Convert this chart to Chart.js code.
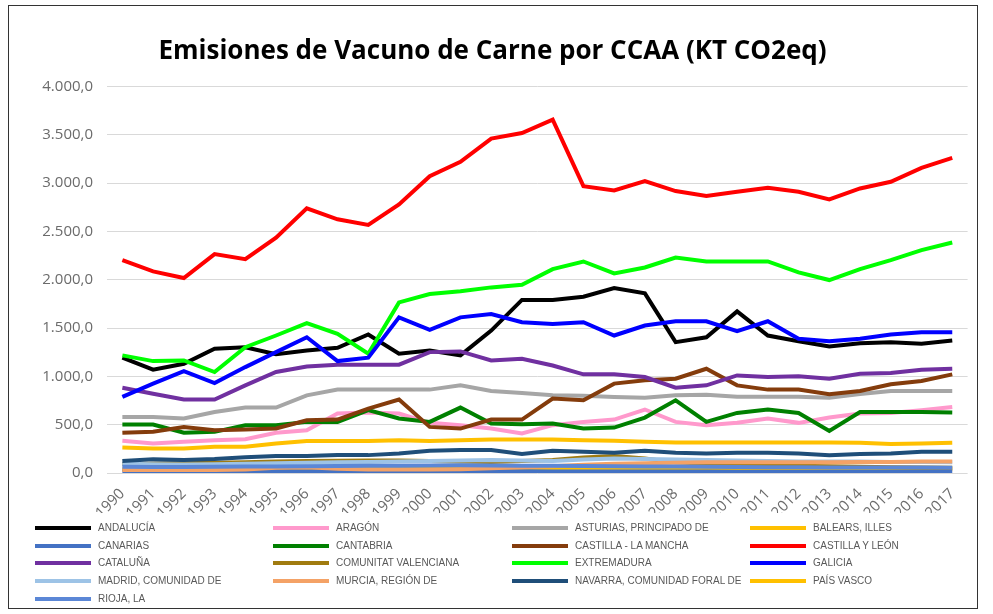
<!DOCTYPE html>
<html>
<head>
<meta charset="utf-8">
<script src="https://cdn.jsdelivr.net/npm/chart.js@4"></script>
<style>
  body { margin: 0; background: #fff; }
  #box { position: absolute; left: 8px; top: 5px; width: 970px; height: 604px; box-sizing: border-box; border: 1px solid #333; }
  #legend { position: absolute; left: 0; top: 0; font-family: "Liberation Sans", Arial, sans-serif; font-size: 10px; color: #595959; }
  .item { position: absolute; height: 12px; line-height: 12px; white-space: nowrap; }
  .item span.sw { position: absolute; left: 0; top: 4px; width: 56px; height: 4px; }
  .item span.tx { position: absolute; left: 63px; top: 0; }
</style>
</head>
<body>
<div id="box"><canvas id="emisionesChart" width="968" height="602"></canvas></div>
<div id="legend"></div>
<script>
const years = ["1990","1991","1992","1993","1994","1995","1996","1997","1998","1999","2000","2001","2002","2003","2004","2005","2006","2007","2008","2009","2010","2011","2012","2013","2014","2015","2016","2017"];

const andalucia = [1193,1069,1131,1286,1302,1230,1268,1296,1433,1234,1268,1217,1474,1791,1791,1825,1915,1859,1354,1405,1673,1423,1364,1309,1343,1354,1337,1371];
const aragon = [333,306,323,340,350,416,443,615,625,615,519,495,460,409,495,529,553,657,529,495,519,564,519,574,615,622,650,684];
const asturias = [580,580,564,632,677,677,804,863,863,863,863,907,849,828,804,800,787,780,804,811,790,790,790,780,818,849,849,849];
const baleares = [40,40,42,42,45,45,48,48,50,50,52,52,50,50,48,48,45,45,45,45,45,42,42,40,40,40,42,42];
const canarias = [15,15,15,16,16,17,17,18,18,18,18,18,17,17,16,16,15,15,15,15,14,14,14,14,14,14,15,15];
const cantabria = [502,502,416,426,495,495,529,529,650,564,529,677,512,505,512,460,470,574,753,529,622,657,622,436,632,632,632,625];
const castillaLaMancha = [416,426,477,443,450,460,546,553,667,760,477,460,553,553,770,753,925,959,976,1079,907,863,863,814,849,918,952,1021];
const castillaLeon = [2203,2086,2018,2265,2213,2436,2739,2626,2567,2780,3072,3220,3461,3519,3657,2969,2925,3021,2918,2866,2911,2952,2911,2832,2945,3014,3158,3261];
const cataluna = [883,821,760,760,907,1045,1103,1121,1121,1121,1251,1258,1165,1182,1113,1021,1021,993,883,907,1010,993,1000,976,1027,1034,1069,1079];
const valenciana = [90,95,100,105,110,120,125,128,130,130,125,120,115,125,135,160,175,150,110,95,85,80,75,70,65,60,58,55];
const extremadura = [1217,1158,1165,1045,1302,1423,1550,1440,1234,1766,1852,1880,1921,1949,2110,2189,2065,2127,2230,2189,2189,2189,2076,1997,2110,2203,2306,2385];
const galicia = [787,925,1055,931,1096,1251,1405,1158,1193,1611,1481,1611,1646,1560,1543,1560,1423,1526,1570,1570,1467,1570,1389,1364,1389,1433,1457,1457];
const madrid = [95,90,88,90,95,100,105,110,115,120,125,130,135,130,125,140,150,145,140,135,130,125,120,120,118,115,115,112];
const murcia = [30,30,30,32,35,55,60,45,35,35,35,40,50,60,70,85,95,100,105,110,110,112,112,112,115,115,118,120];
const navarra = [124,141,134,144,162,175,175,185,185,203,230,237,237,196,230,220,209,230,209,203,209,209,203,185,196,203,220,220];
const paisVasco = [265,254,254,271,271,306,330,330,330,340,330,340,347,347,347,340,333,323,316,316,316,316,316,316,313,299,306,313];
const rioja = [65,62,62,64,66,68,70,72,74,76,78,80,78,76,74,72,70,68,66,64,62,60,60,58,58,56,56,55];

const names = ["ANDALUCÍA","ARAGÓN","ASTURIAS, PRINCIPADO DE","BALEARS, ILLES","CANARIAS","CANTABRIA","CASTILLA - LA MANCHA","CASTILLA Y LEÓN","CATALUÑA","COMUNITAT VALENCIANA","EXTREMADURA","GALICIA","MADRID, COMUNIDAD DE","MURCIA, REGIÓN DE","NAVARRA, COMUNIDAD FORAL DE","PAÍS VASCO","RIOJA, LA"];
const series = [andalucia, aragon, asturias, baleares, canarias, cantabria, castillaLaMancha, castillaLeon, cataluna, valenciana, extremadura, galicia, madrid, murcia, navarra, paisVasco, rioja];
const colors = ["#000000","#ff99cc","#a6a6a6","#ffc000","#4472c4","#008000","#843c0c","#ff0000","#7030a0","#a07b10","#00ff00","#0000ff","#9dc3e6","#f4a266","#1f4e79","#ffc000","#5b87d6"];

// formato español: 4.000,0
function fmt(v) {
    const p = Number(v).toFixed(1).split(".");
    return p[0].replace(/\B(?=(\d{3})+(?!\d))/g, ".") + "," + p[1];
}

const ctx = document.getElementById("emisionesChart").getContext("2d");
const chart = new Chart(ctx, {
    type: "line",
    data: {
        labels: years,
        datasets: series.map((d, i) => ({
            label: names[i],
            data: d,
            borderColor: colors[i],
            backgroundColor: colors[i],
            borderWidth: 4,
            pointRadius: 0,
            tension: 0,
            fill: false,
            order: series.length - i, // later series on top, like Excel
        })),
    },
    options: {
        responsive: false,
        animation: false,
        layout: { padding: { left: 0, right: 1, top: 0, bottom: 95 } },
        plugins: {
            legend: { display: false },
            tooltip: { enabled: false },
            title: {
                display: true,
                text: "Emisiones de Vacuno de Carne por CCAA (KT CO2eq)",
                color: "#000",
                font: { family: "'Open Sans', sans-serif", size: 26, weight: "bold", lineHeight: 1.25 },
                padding: { top: 29, bottom: 19 },
            },
        },
        scales: {
            x: {
                offset: true,
                grid: { display: false, drawTicks: false },
                border: { display: false },
                ticks: {
                    color: "#6b6b6b",
                    font: { family: "'Open Sans', sans-serif", size: 15 },
                    maxRotation: 45,
                    minRotation: 45,
                    autoSkip: false,
                    padding: 12,
                },
                afterFit: (s) => { s.height = 40; },
            },
            y: {
                min: 0,
                max: 4000,
                grid: { color: "#d9d9d9", drawTicks: false },
                border: { display: false },
                ticks: {
                    stepSize: 500,
                    color: "#6b6b6b",
                    font: { family: "'Open Sans', sans-serif", size: 15 },
                    padding: 14,
                    callback: (v) => fmt(v),
                },
                afterFit: (s) => { s.width = 98; },
            },
        },
    },
});

// leyenda en 4 columnas
const legend = document.getElementById("legend");
const colX = [35, 273, 512, 750];
const rowY = [522, 540, 557, 575, 593];
names.forEach((n, i) => {
    const el = document.createElement("div");
    el.className = "item";
    el.style.left = colX[i % 4] + "px";
    el.style.top = rowY[Math.floor(i / 4)] + "px";
    el.innerHTML = '<span class="sw" style="background:' + colors[i] + '"></span><span class="tx">' + n + "</span>";
    legend.appendChild(el);
});
</script>
</body>
</html>
